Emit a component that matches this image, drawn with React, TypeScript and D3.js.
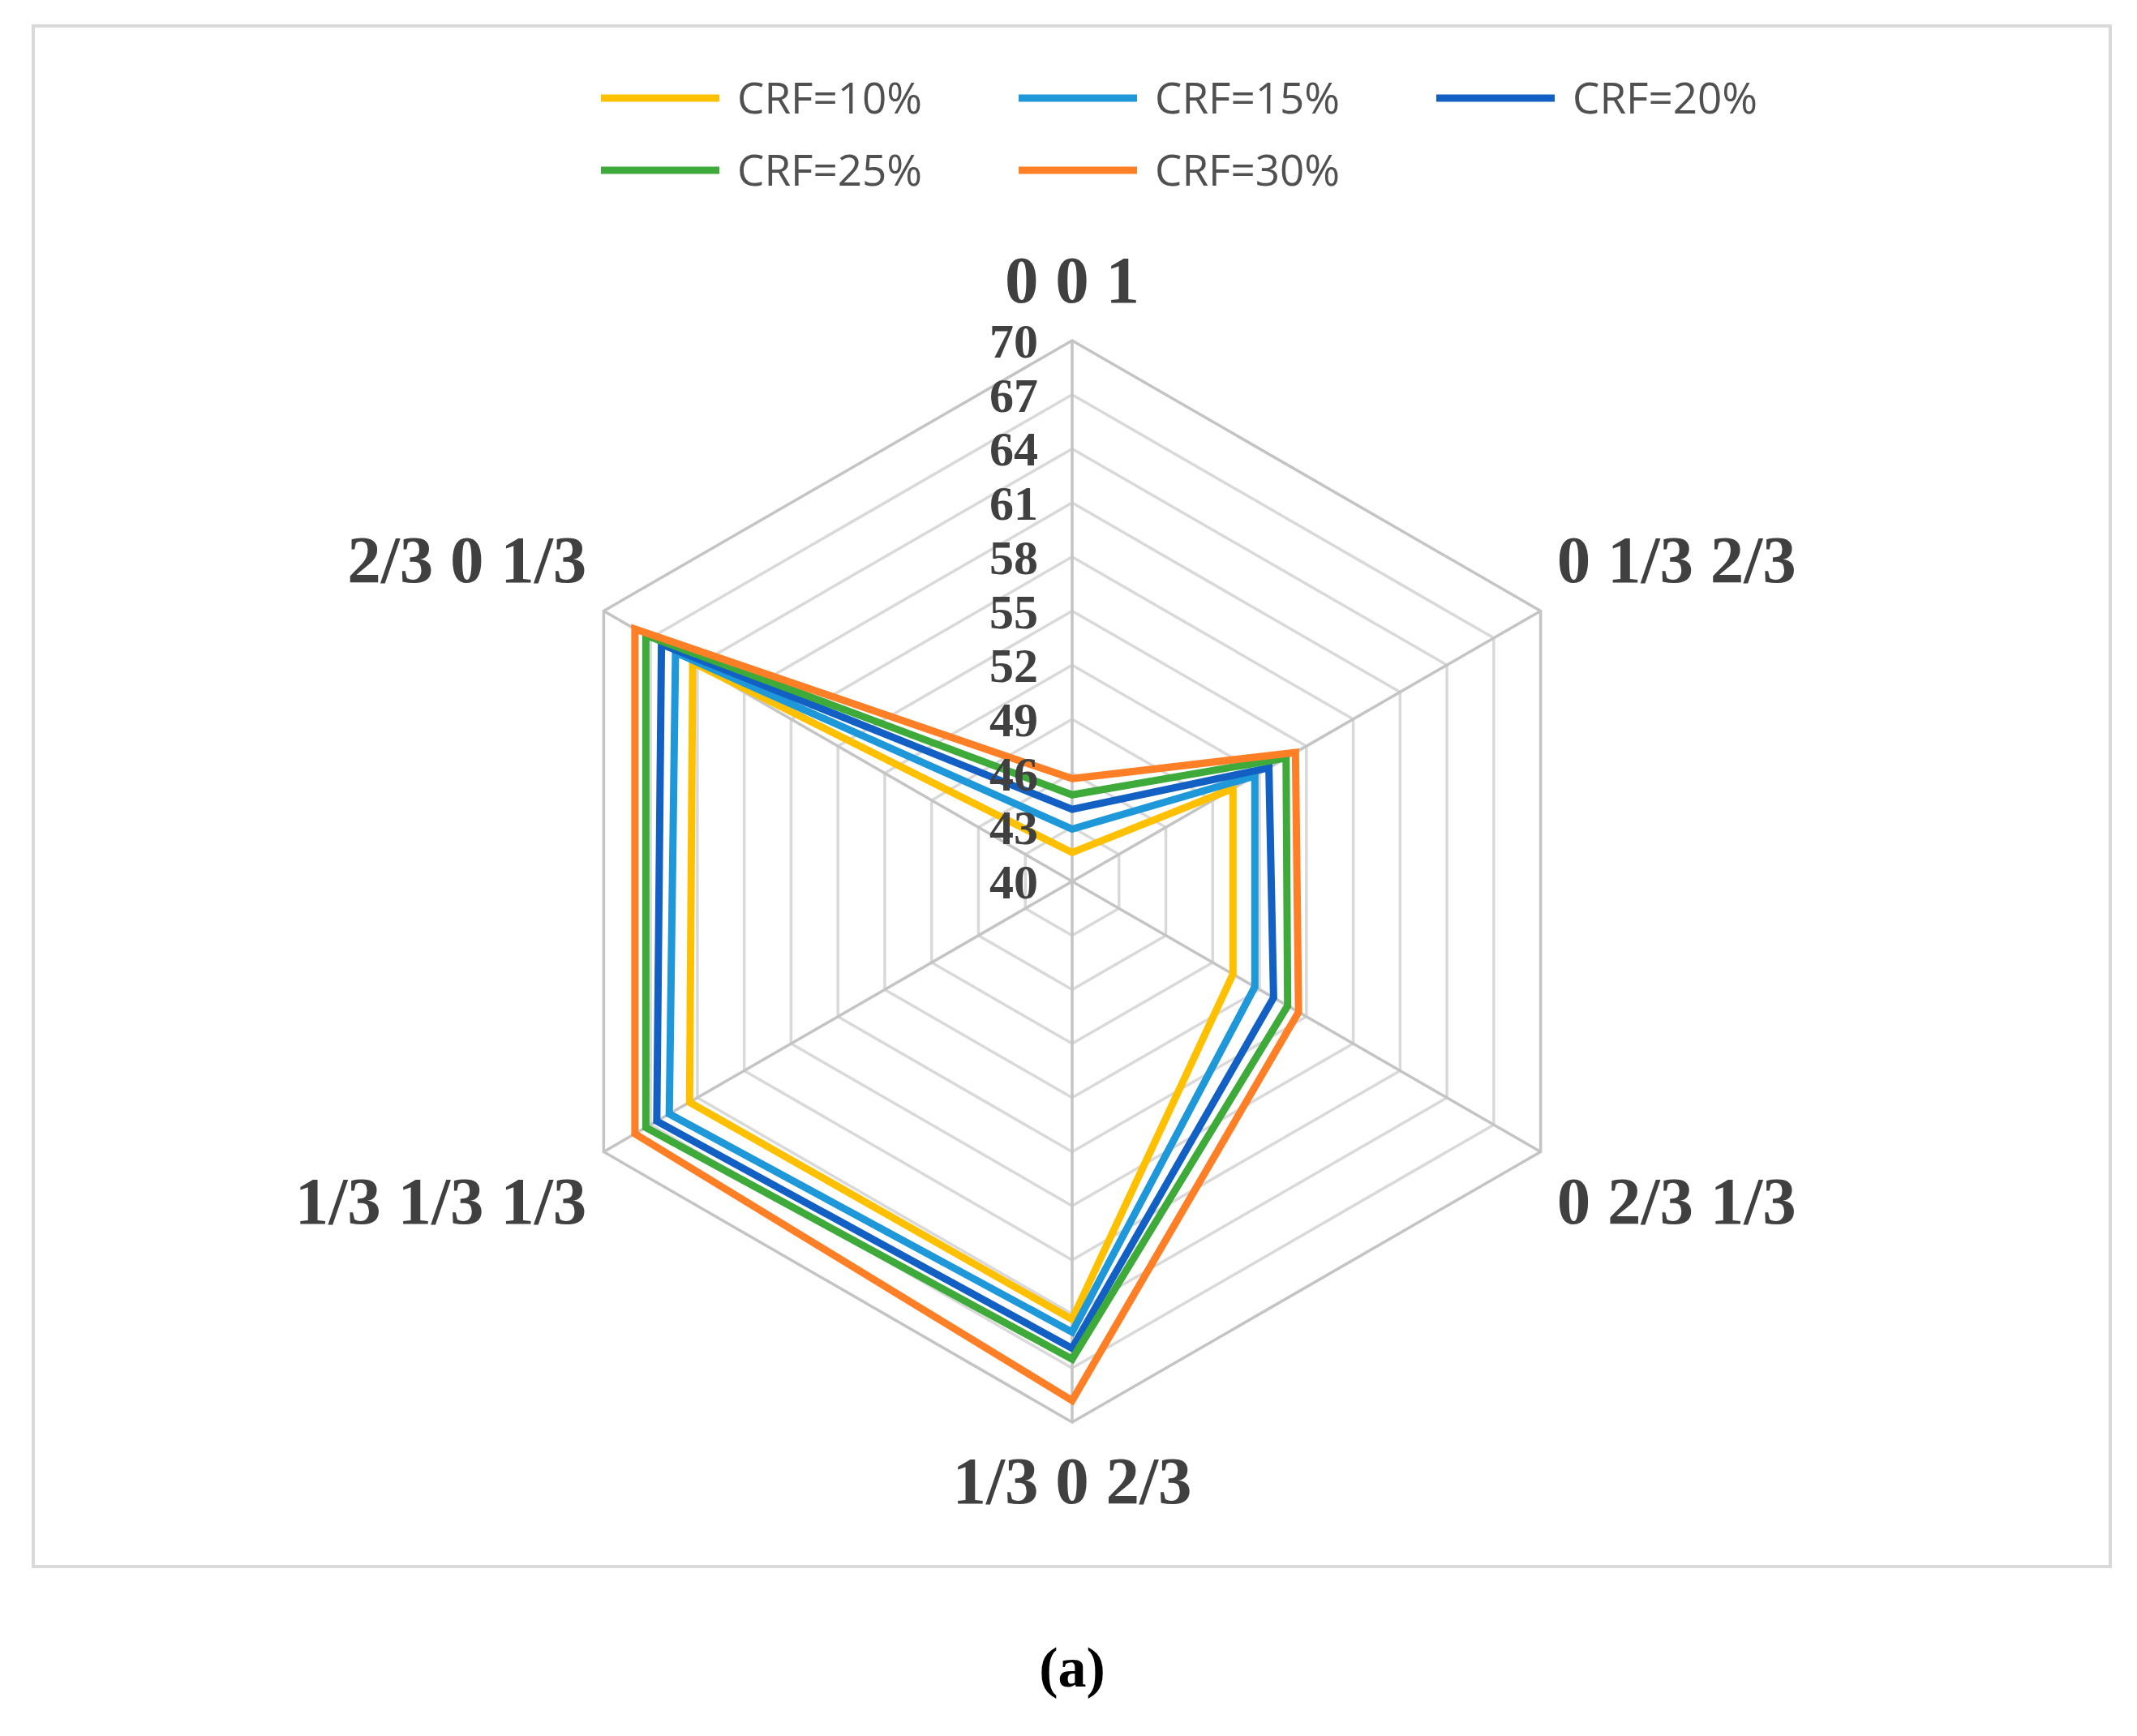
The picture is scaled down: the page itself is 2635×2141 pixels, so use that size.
import * as d3 from 'd3';
import { useEffect, useRef } from 'react';

const categories = ['0 0 1', '0 1/3 2/3', '0 2/3 1/3', '1/3 0 2/3', '1/3 1/3 1/3', '2/3 0 1/3'];
const seriesNames = ['CRF=10%', 'CRF=15%', 'CRF=20%', 'CRF=25%', 'CRF=30%'];
const crf10 = [41.6, 50.3, 50.3, 64.3, 64.5, 64.3];
const crf15 = [42.9, 51.7, 51.7, 65.0, 65.8, 65.4];
const crf20 = [44.0, 52.6, 52.9, 65.9, 66.6, 66.3];
const crf25 = [44.8, 53.7, 53.8, 66.5, 67.3, 67.3];
const crf30 = [45.7, 54.3, 54.5, 68.8, 68.0, 68.0];
const seriesValues = [crf10, crf15, crf20, crf25, crf30];
const colors = ['#FFC000', '#1E98D8', '#1360C4', '#3DAA3A', '#FF7F27'];
const ticks = d3.range(40, 71, 3);

export default function App() {
    const svgRef = useRef<SVGSVGElement>(null);

    useEffect(() => {
        document.body.style.margin = '0';
        if (!svgRef.current) return;
        const svg = d3.select(svgRef.current);
        svg.selectAll('*').remove();

        const cx = 1322, cy = 1087, R = 667;
        const r = d3.scaleLinear().domain([40, 70]).range([0, R]);
        const angle = (i: number) => (i * 2 * Math.PI) / categories.length;

        // frame
        svg.append('rect')
            .attr('x', 41).attr('y', 32)
            .attr('width', 2561).attr('height', 1900)
            .attr('fill', '#fff')
            .attr('stroke', '#d9d9d9').attr('stroke-width', 4);

        const g = svg.append('g').attr('transform', `translate(${cx},${cy})`);

        // hexagon gridlines
        const ring = d3.lineRadial<number>()
            .angle((_, i) => angle(i))
            .radius(d => r(d))
            .curve(d3.curveLinearClosed);

        g.append('g')
            .selectAll('path')
            .data(ticks.slice(1))
            .enter()
            .append('path')
            .attr('d', t => ring(categories.map(() => t)))
            .attr('fill', 'none')
            .attr('stroke', t => (t === 70 ? '#c4c4c4' : '#d9d9d9'))
            .attr('stroke-width', 3.5);

        // spokes
        g.append('g')
            .selectAll('line')
            .data(categories)
            .enter()
            .append('line')
            .attr('x1', 0).attr('y1', 0)
            .attr('x2', (_, i) => R * Math.sin(angle(i)))
            .attr('y2', (_, i) => -R * Math.cos(angle(i)))
            .attr('stroke', '#c4c4c4')
            .attr('stroke-width', 3.5);

        // series
        const line = d3.lineRadial<number>()
            .angle((_, i) => angle(i))
            .radius(d => r(d))
            .curve(d3.curveLinearClosed);

        g.append('g')
            .selectAll('path')
            .data(seriesValues)
            .enter()
            .append('path')
            .attr('d', d => line(d))
            .attr('fill', 'none')
            .attr('stroke', (_, i) => colors[i])
            .attr('stroke-width', 9)
            .attr('stroke-linejoin', 'miter');

        // value ticks
        g.append('g')
            .selectAll('text')
            .data(ticks)
            .enter()
            .append('text')
            .attr('x', -42)
            .attr('y', t => -r(t))
            .attr('dy', '0.35em')
            .attr('text-anchor', 'end')
            .attr('font-family', '"Liberation Serif", "Times New Roman", serif')
            .attr('font-weight', 'bold')
            .attr('font-size', 60)
            .attr('fill', '#404040')
            .text(t => t);

        // category labels
        g.append('g')
            .selectAll('text')
            .data(categories)
            .enter()
            .append('text')
            .attr('x', (_, i) => {
                const s = Math.sin(angle(i));
                if (Math.abs(s) < 0.01) return 0;
                return R * s + (s > 0 ? 20 : -21);
            })
            .attr('y', (_, i) => {
                const c = Math.cos(angle(i));
                if (c > 0.99) return -R - 47;
                if (c < -0.99) return R + 100;
                return -R * c + (c > 0 ? -36 : 88);
            })
            .attr('text-anchor', (_, i) => {
                const s = Math.sin(angle(i));
                return Math.abs(s) < 0.01 ? 'middle' : s > 0 ? 'start' : 'end';
            })
            .attr('font-family', '"Liberation Serif", "Times New Roman", serif')
            .attr('font-weight', 'bold')
            .attr('font-size', 83)
            .attr('fill', '#404040')
            .text(d => d);

        // legend
        const legend = svg.append('g');
        const items = legend.selectAll('g')
            .data(seriesNames)
            .enter()
            .append('g')
            .attr('transform', (_, i) => `translate(${741 + (i % 3) * 515},${121 + Math.floor(i / 3) * 89})`);
        items.append('line')
            .attr('x1', 0).attr('x2', 146)
            .attr('y1', 0).attr('y2', 0)
            .attr('stroke', (_, i) => colors[i])
            .attr('stroke-width', 9);
        items.append('text')
            .attr('x', 168)
            .attr('y', 0)
            .attr('dy', '0.36em')
            .attr('font-family', '"Open Sans", "Liberation Sans", sans-serif')
            .attr('font-size', 53)
            .attr('fill', '#505050')
            .text(d => d);

        // caption
        svg.append('text')
            .attr('x', cx)
            .attr('y', 2080)
            .attr('text-anchor', 'middle')
            .attr('font-family', '"Liberation Serif", "Times New Roman", serif')
            .attr('font-weight', 'bold')
            .attr('font-size', 70)
            .attr('fill', '#000')
            .text('(a)');
    }, []);

    return <svg ref={svgRef} width={2635} height={2141} style={{ display: 'block', background: '#fff' }} />;
}
